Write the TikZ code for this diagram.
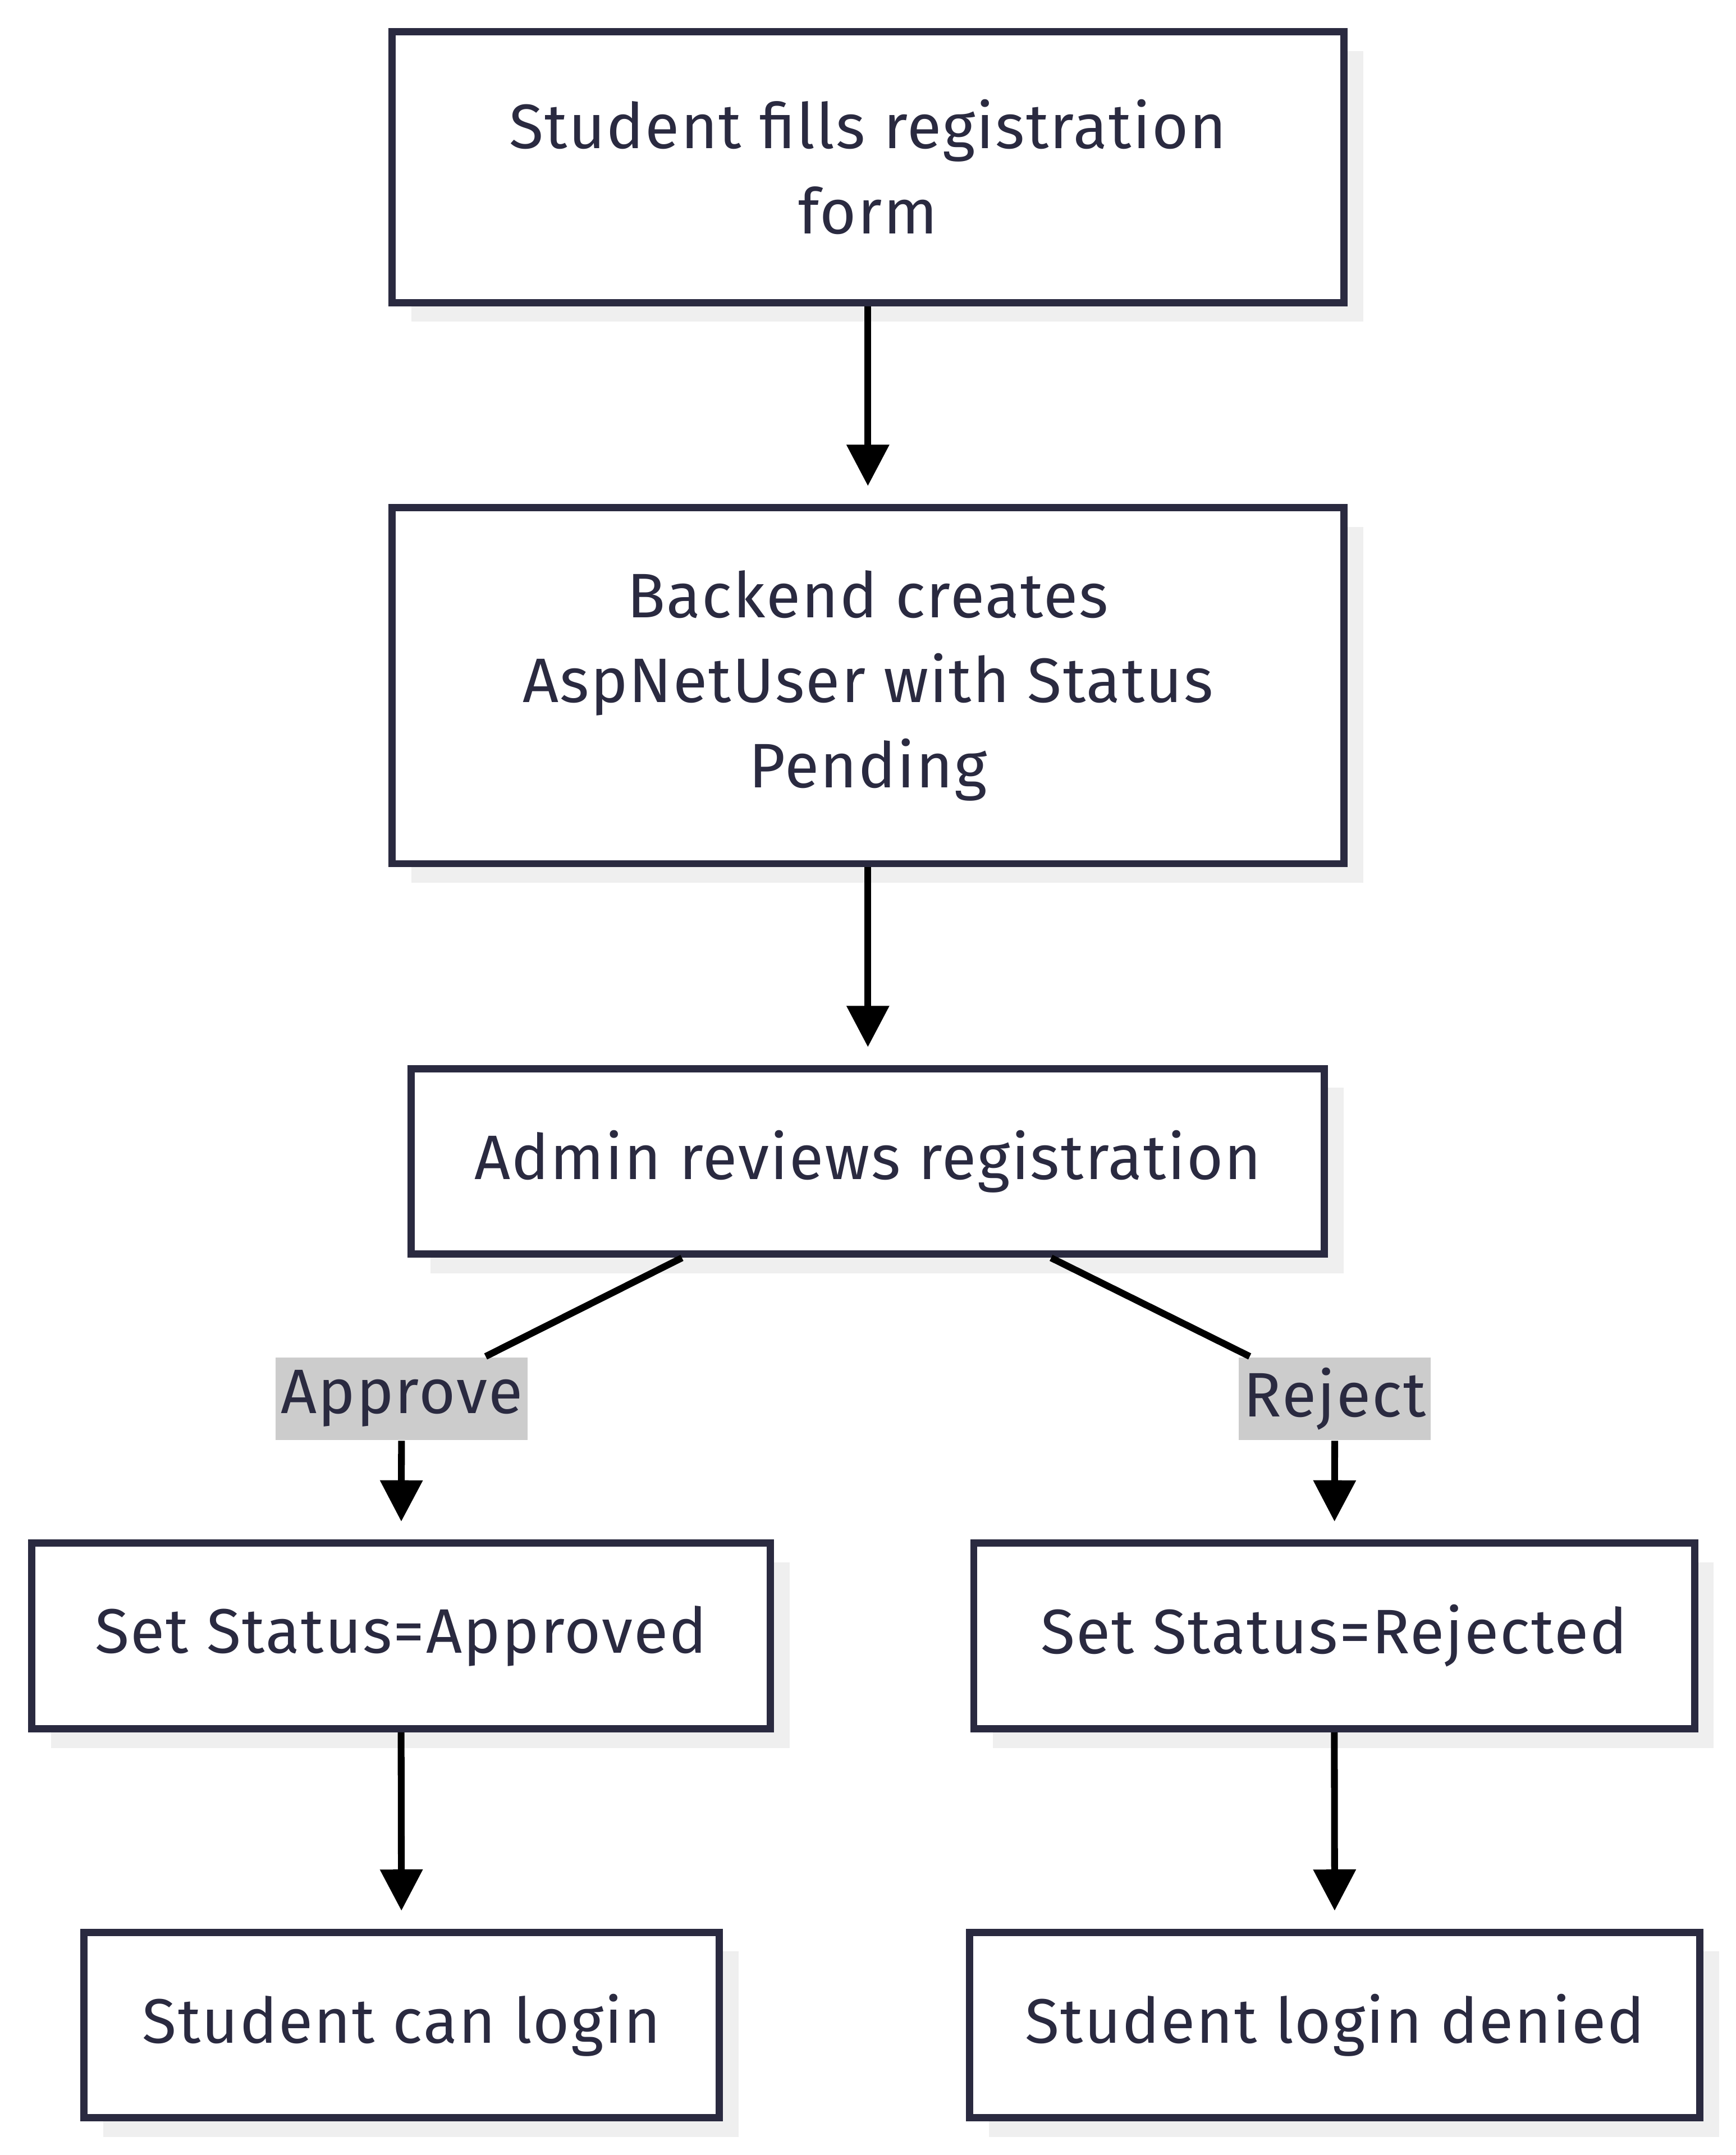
\documentclass[tikz,border=0pt]{standalone}
\usepackage{fontspec}
\setmainfont[LetterSpace=2]{Fira Sans}
\usepackage{tikz}
\usetikzlibrary{positioning, calc, shadows, arrows.meta}

\definecolor{ink}{HTML}{2A2A40}
\definecolor{shade}{HTML}{EFEFEF}
\definecolor{tag}{HTML}{CCCCCC}

\begin{document}
\begin{tikzpicture}[
                box/.style={rectangle, draw=ink, line width=1.5pt, fill=white, text=ink,
                    align=center, font=\fontsize{13pt}{17.6pt}\selectfont,
                    drop shadow={shadow xshift=0.14cm, shadow yshift=-0.14cm, fill=shade, opacity=1}},
                tagbox/.style={rectangle, fill=tag, text=ink, inner sep=1pt,
                    minimum width=1.3cm, minimum height=0.6cm,
                    font=\fontsize{13pt}{15pt}\selectfont},
                line/.style={line width=1.4pt, black},
                edge/.style={line, -{Triangle[length=0.3cm, width=0.3cm]}, shorten >=0.13cm}
            ]
                \useasboundingbox (0,0) rectangle (12.62,-15.67);

                % nodes
                \node[box, minimum width=6.92cm, minimum height=1.97cm] (fill) at (6.31,-1.215)
                    {Student fills registration\\form};
                \node[box, minimum width=6.92cm, minimum height=2.59cm] (create) at (6.31,-4.985)
                    {Backend creates\\AspNetUser with Status\\Pending};
                \node[box, minimum width=6.64cm, minimum height=1.35cm] (review) at (6.31,-8.445)
                    {Admin reviews registration};

                % labels on the two branches
                \node[tagbox, minimum width=1.70cm] (approve) at (2.92,-10.17) {Approve};
                \node[tagbox, minimum width=1.31cm] (reject) at (9.705,-10.17) {Reject};

                \node[box, minimum width=5.37cm, minimum height=1.35cm] (setok) at (2.915,-11.895)
                    {Set Status=Approved};
                \node[box, minimum width=5.24cm, minimum height=1.35cm] (setno) at (9.70,-11.895)
                    {Set Status=Rejected};
                \node[box, minimum width=4.62cm, minimum height=1.35cm] (login) at (2.92,-14.725)
                    {Student can login};
                \node[box, minimum width=5.31cm, minimum height=1.35cm] (denied) at (9.705,-14.725)
                    {Student login denied};

                % main flow
                \draw[edge] (fill) -- (create);
                \draw[edge] (create) -- (review);

                % branches
                \coordinate (outok) at ($(review.south west)!0.298!(review.south east)$);
                \coordinate (outno) at ($(review.south west)!0.699!(review.south east)$);
                \draw[line] (outok) -- (approve);
                \draw[line] (outno) -- (reject);
                \draw[edge] (approve) -- (setok);
                \draw[edge] (reject) -- (setno);

                \draw[edge] (setok) -- (login);
                \draw[edge] (setno) -- (denied);

            \end{tikzpicture}
\end{document}
